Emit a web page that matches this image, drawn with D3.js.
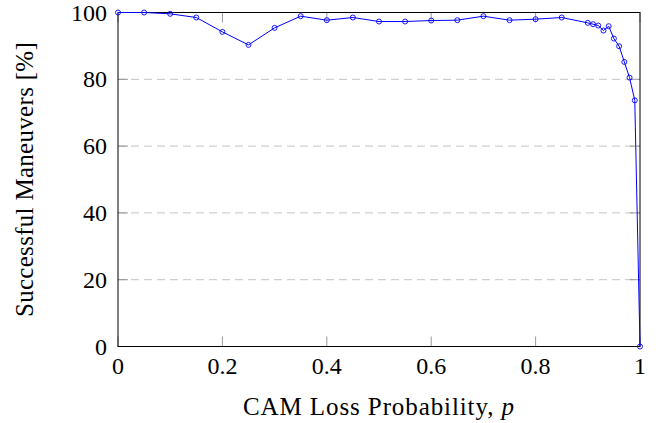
<!DOCTYPE html>
<html>
<head>
<meta charset="utf-8">
<script src="https://cdn.jsdelivr.net/npm/d3@7"></script>
<style>
  body { margin: 0; background: #fff; }
  svg text { font-family: "Liberation Serif", "Times New Roman", "DejaVu Serif", serif; }
</style>
</head>
<body>
<div id="chart"></div>
<script>
// CAM loss probability vs. successful maneuvers
const probs = [0, 0.05, 0.1, 0.15, 0.2, 0.25, 0.3, 0.35, 0.4, 0.45, 0.5, 0.55, 0.6, 0.65,
  0.7, 0.75, 0.8, 0.85, 0.9, 0.91, 0.92, 0.93, 0.94, 0.95, 0.96, 0.97, 0.98, 0.99, 1];
const success = [100, 100, 99.6, 98.5, 94.2, 90.3, 95.4, 98.9, 97.7, 98.5, 97.3, 97.3, 97.6, 97.7,
  98.9, 97.7, 98.0, 98.5, 96.9, 96.5, 96.1, 94.6, 95.9, 92.2, 89.9, 85.2, 80.5, 73.7, 0];
const xTicks = [0, 0.2, 0.4, 0.6, 0.8, 1];
const yTicks = [0, 20, 40, 60, 80, 100];

const width = 662, height = 423;
const margin = { top: 12.5, right: 22, bottom: 76.5, left: 118 };
const w = width - margin.left - margin.right;
const h = height - margin.top - margin.bottom;
const fontSize = 24;

const svg = d3.select("#chart").append("svg")
  .attr("width", width)
  .attr("height", height);

const g = svg.append("g").attr("transform", `translate(${margin.left},${margin.top})`);

const x = d3.scaleLinear().domain([0, 1]).range([0, w]);
const y = d3.scaleLinear().domain([0, 100]).range([h, 0]);

// dashed grid
g.append("g")
  .selectAll("line")
  .data(yTicks.filter(d => d > 0 && d < 100))
  .join("line")
  .attr("x1", 0).attr("x2", w)
  .attr("y1", d => y(d)).attr("y2", d => y(d))
  .attr("stroke", "#c4c4c4")
  .attr("stroke-width", 1)
  .attr("stroke-dasharray", "8,5");

// inward ticks on all four sides
const tickLen = 10;
const tickStyle = sel => sel.attr("stroke", "#808080").attr("stroke-width", 0.8);
g.append("g").selectAll("line").data(xTicks).join("line")
  .attr("x1", d => x(d)).attr("x2", d => x(d)).attr("y1", h).attr("y2", h - tickLen).call(tickStyle);
g.append("g").selectAll("line").data(xTicks).join("line")
  .attr("x1", d => x(d)).attr("x2", d => x(d)).attr("y1", 0).attr("y2", tickLen).call(tickStyle);
g.append("g").selectAll("line").data(yTicks).join("line")
  .attr("x1", 0).attr("x2", tickLen).attr("y1", d => y(d)).attr("y2", d => y(d)).call(tickStyle);
g.append("g").selectAll("line").data(yTicks).join("line")
  .attr("x1", w).attr("x2", w - tickLen).attr("y1", d => y(d)).attr("y2", d => y(d)).call(tickStyle);

// frame
g.append("rect")
  .attr("width", w).attr("height", h)
  .attr("fill", "none")
  .attr("stroke", "#000")
  .attr("stroke-width", 1);

// tick labels
g.append("g").selectAll("text").data(xTicks).join("text")
  .attr("x", d => x(d))
  .attr("y", h + 27)
  .attr("text-anchor", "middle")
  .attr("font-size", fontSize)
  .text(d => d3.format("~g")(d));

g.append("g").selectAll("text").data(yTicks).join("text")
  .attr("x", -11)
  .attr("y", d => y(d) + 8)
  .attr("text-anchor", "end")
  .attr("font-size", fontSize)
  .text(d => d);

// data line
const pts = probs.map((p, i) => [p, success[i]]);
g.append("path")
  .datum(pts)
  .attr("fill", "none")
  .attr("stroke", "#0000ff")
  .attr("stroke-width", 1)
  .attr("d", d3.line().x(d => x(d[0])).y(d => y(d[1])));

g.append("g").selectAll("circle").data(pts).join("circle")
  .attr("cx", d => x(d[0]))
  .attr("cy", d => y(d[1]))
  .attr("r", 2.5)
  .attr("fill", "none")
  .attr("stroke", "#0000ff")
  .attr("stroke-width", 0.9);

// axis titles
const xl = svg.append("text")
  .attr("x", margin.left + w / 2)
  .attr("y", 415)
  .attr("text-anchor", "middle")
  .attr("font-size", 25)
  .attr("letter-spacing", 0.9);
xl.append("tspan").text("CAM Loss Probability, ");
xl.append("tspan").attr("font-style", "italic").text("p");

svg.append("text")
  .attr("transform", `translate(33,${margin.top + h / 2}) rotate(-90)`)
  .attr("text-anchor", "middle")
  .attr("font-size", 25)
  .attr("letter-spacing", 0.3)
  .text("Successful Maneuvers [%]");
</script>
</body>
</html>
